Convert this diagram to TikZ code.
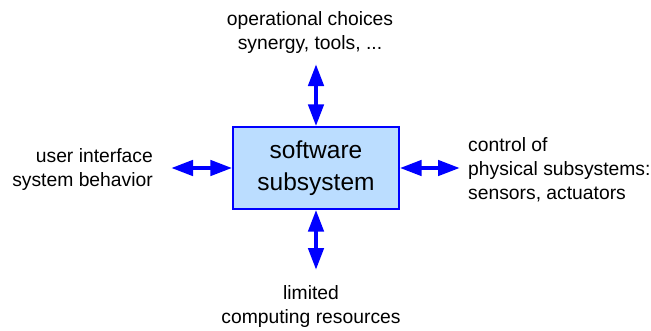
\documentclass[tikz,border=0pt]{standalone}
\usepackage{fontspec}
\setmainfont{Liberation Sans}
\usetikzlibrary{arrows.meta}
\definecolor{boxblue}{RGB}{187,221,255}

\begin{document}
\begin{tikzpicture}[x=1pt,y=-1pt]
\useasboundingbox (0,0) rectangle (651,330);

\begin{scope}[every node/.style={inner sep=0pt,font=\fontsize{19.3}{24}\selectfont}]
    \node (SW) at (316,168) [draw=blue,line width=1.3pt,fill=boxblue,
        minimum width=166pt,minimum height=82pt,align=center,
        font=\fontsize{24.5}{32}\selectfont] {software\\subsystem};
    \node (OP) at (310,49)  [anchor=base,align=center] {operational choices\\synergy, tools, ...};
    \node (UI) at (153,186) [anchor=base east,align=right] {user interface\\system behavior};
    \node (CT) at (468,199) [anchor=base west,align=left] {control of\\physical subsystems:\\sensors, actuators};
    \node (LM) at (311,323) [anchor=base,align=center] {limited\\computing resources};
\end{scope}

\coordinate (OPa) at (316,64);
\coordinate (UIa) at (171,168);
\coordinate (CTa) at (460,168);
\coordinate (LMa) at (316,270);

\begin{scope}[>={Triangle[length=22pt,width=15pt]},
            every edge/.style={draw=blue,line width=4.5pt}]
    \path [<->] (OPa) edge (SW.north);
    \path [<->] (UIa) edge (SW.west);
    \path [<->] (SW.east) edge (CTa);
    \path [<->] (SW.south) edge (LMa);
\end{scope}
\end{tikzpicture}
\end{document}
